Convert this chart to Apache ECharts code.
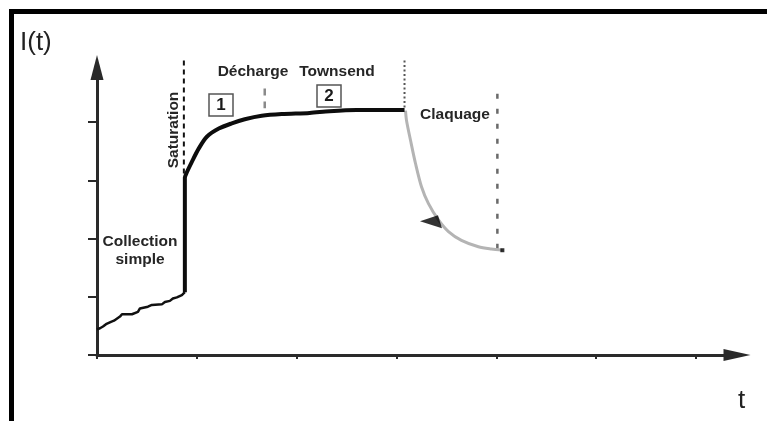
<!DOCTYPE html>
<html>
<head>
<meta charset="utf-8">
<script src="https://cdn.jsdelivr.net/npm/echarts@6/dist/echarts.min.js"></script>
<style>
html,body{margin:0;padding:0;background:#fff;}
#chart{width:767px;height:421px;}
</style>
</head>
<body>
<div id="chart"></div>
<script>
// ---- data (axis units) ----
var xTicks = [0, 1, 2, 3, 4, 5, 6];
var yTicks = [0, 1, 2, 3, 4];

// Collection simple (stair-like rise)
var collection = [
  [0.00, 0.44], [0.03, 0.46], [0.06, 0.49], [0.09, 0.53], [0.11, 0.55],
  [0.14, 0.57], [0.17, 0.59], [0.19, 0.61], [0.23, 0.66], [0.25, 0.70],
  [0.35, 0.70], [0.36, 0.73], [0.41, 0.74], [0.43, 0.80], [0.51, 0.83],
  [0.55, 0.86], [0.65, 0.87], [0.68, 0.91], [0.73, 0.93], [0.76, 0.97],
  [0.80, 0.99], [0.82, 1.01], [0.85, 1.03], [0.87, 1.06], [0.88, 1.08]
];
// Saturation jump + Townsend plateau
var saturation = [
  [0.88, 1.08], [0.88, 3.04], [0.90, 3.14], [0.95, 3.32], [1.02, 3.55],
  [1.10, 3.75], [1.22, 3.89], [1.35, 3.98], [1.48, 4.05], [1.65, 4.11],
  [1.85, 4.14], [2.13, 4.16], [2.33, 4.19], [2.60, 4.21], [3.08, 4.21]
];
// Claquage (breakdown) decay
var claquage = [
  [3.09, 4.20], [3.10, 4.03], [3.14, 3.69], [3.19, 3.29], [3.25, 2.89],
  [3.32, 2.60], [3.42, 2.32], [3.52, 2.12], [3.65, 1.97], [3.82, 1.86],
  [3.95, 1.82], [4.06, 1.80]
];
var endPoint = [[4.06, 1.80]];
var arrowPoint = [[3.345, 2.29]];

// vertical separators
var lineSaturation = [[0.87, 5.06], [0.87, 3.04]];
var lineDecharge = [[1.68, 4.58], [1.68, 4.24]];
var lineClaquageStart = [[3.08, 5.06], [3.08, 4.21]];
var lineClaquageEnd = [[4.01, 4.49], [4.01, 1.80]];

// texts
var yName = 'I(t)';
var xName = 't';
var labels = {
  saturation: 'Saturation',
  decharge: 'Décharge',
  townsend: 'Townsend',
  claquage: 'Claquage',
  collection: 'Collection',
  simple: 'simple',
  box1: '1',
  box2: '2'
};

// ---- chart ----
var chart = echarts.init(document.getElementById('chart'), null, {renderer: 'canvas'});
var FONT = '"Liberation Sans", Arial, sans-serif';
var lblStyle = function (t, x, y, extra) {
  var o = {
    type: 'text', x: x, y: y,
    style: {text: t, font: 'bold 15.5px ' + FONT, fill: '#262626', align: 'center', verticalAlign: 'middle'}
  };
  if (extra) for (var k in extra) o[k] = extra[k];
  return o;
};
var boxText = function (t, x, y) {
  return {type: 'text', x: x, y: y, style: {text: t, font: 'bold 17px ' + FONT, fill: '#1a1a1a', align: 'center', verticalAlign: 'middle'}};
};
var axisCol = '#2a2a2a';
var arrowPath = 'path://M0,6 L18,0 L22,13 Z';

var option = {
  animation: false,
  backgroundColor: '#ffffff',
  grid: {left: 97, right: 30, top: 67.5, bottom: 66},
  xAxis: {
    type: 'value', min: 0, max: 6.41, interval: 1,
    splitLine: {show: false},
    axisLabel: {show: false},
    axisLine: {show: true, lineStyle: {color: axisCol, width: 3}, symbol: ['none', 'triangle'], symbolSize: [12, 27]},
    axisTick: {show: true, length: 4, customValues: xTicks, lineStyle: {color: axisCol, width: 2}}
  },
  yAxis: {
    type: 'value', min: 0, max: 4.94, interval: 1,
    splitLine: {show: false},
    axisLabel: {show: false},
    axisLine: {show: true, lineStyle: {color: axisCol, width: 3}, symbol: ['none', 'triangle'], symbolSize: [13, 25]},
    axisTick: {show: true, length: 9, customValues: yTicks, lineStyle: {color: axisCol, width: 2}}
  },
  series: [
    {type: 'line', data: lineSaturation, clip: false, symbol: 'none', lineStyle: {color: '#111', width: 2, type: [5, 4]}, z: 1},
    {type: 'line', data: lineDecharge, clip: false, symbol: 'none', lineStyle: {color: '#8a8a8a', width: 2.5, type: [7, 6]}, z: 1},
    {type: 'line', data: lineClaquageStart, clip: false, symbol: 'none', lineStyle: {color: '#555', width: 2, type: [2, 2.5]}, z: 1},
    {type: 'line', data: lineClaquageEnd, clip: false, symbol: 'none', lineStyle: {color: '#6a6a6a', width: 2.5, type: [5, 10]}, z: 1},
    {type: 'line', data: collection, symbol: 'none', lineStyle: {color: '#111', width: 2.5}, z: 3},
    {type: 'line', data: saturation, symbol: 'none', smooth: 0.3, lineStyle: {color: '#0d0d0d', width: 4}, z: 3},
    {type: 'line', data: claquage, symbol: 'none', smooth: 0.3, lineStyle: {color: '#b4b4b4', width: 3}, z: 2},
    {type: 'scatter', data: endPoint, symbol: 'rect', symbolSize: 4, itemStyle: {color: '#000'}, z: 4},
    {type: 'scatter', data: arrowPoint, symbol: arrowPath, symbolSize: [22, 13], itemStyle: {color: '#000'}, z: 4}
  ],
  graphic: [
    {type: 'polyline', shape: {points: [[11.5, 421], [11.5, 11.5], [767, 11.5]]}, style: {stroke: '#000', lineWidth: 5, fill: null}},
    {type: 'text', x: 20, y: 30, style: {text: yName, font: '26px ' + FONT, fill: '#222'}},
    {type: 'text', x: 738, y: 388, style: {text: xName, font: '26px ' + FONT, fill: '#222'}},
    lblStyle(labels.saturation, 174, 130, {rotation: Math.PI / 2}),
    lblStyle(labels.decharge, 253, 72),
    lblStyle(labels.townsend, 337, 72),
    lblStyle(labels.claquage, 455, 115),
    lblStyle(labels.collection, 140, 242),
    lblStyle(labels.simple, 140, 260),
    {type: 'rect', shape: {x: 209, y: 94, width: 24, height: 22}, style: {stroke: '#555', lineWidth: 1.5, fill: '#fff'}},
    boxText(labels.box1, 221, 105),
    {type: 'rect', shape: {x: 317, y: 85, width: 24, height: 22}, style: {stroke: '#555', lineWidth: 1.5, fill: '#fff'}},
    boxText(labels.box2, 329, 96)
  ]
};
chart.setOption(option);
</script>
</body>
</html>
